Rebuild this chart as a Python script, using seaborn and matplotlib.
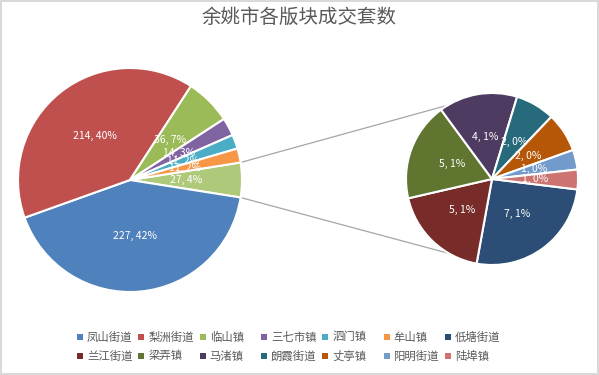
import numpy as np
import matplotlib
matplotlib.use("Agg")
import matplotlib.pyplot as plt
import seaborn as sns

# 主饼图数据
main_names = ["凤山街道", "梨洲街道", "临山镇", "三七市镇", "泗门镇", "牟山镇"]
main_values = [227, 214, 36, 14, 11, 11]
main_pct = [42, 40, 7, 3, 2, 2]
main_colors = ["#4F81BD", "#C0504D", "#9BBB59", "#8064A2", "#4BACC6", "#F79646"]

# 其他 (第二个饼图)
sub_names = ["低塘街道", "兰江街道", "梁弄镇", "马渚镇", "朗霞街道", "丈亭镇", "阳明街道", "陆埠镇"]
sub_values = [7, 5, 5, 4, 2, 2, 1, 1]
sub_pct = [1, 1, 1, 1, 0, 0, 0, 0]
sub_colors = ["#2C4D75", "#772C2A", "#5F7530", "#4D3B62", "#276A7C", "#B65708", "#729ACA", "#CD7371"]

other_pct = 4
other_color = "#AFC97A"

sns.set_theme(style="white")
plt.rcParams["font.family"] = ["Noto Sans CJK SC", "DejaVu Sans"]

W, H = 599, 375
fig = plt.figure(figsize=(W / 100, H / 100), dpi=100, edgecolor="#D9D9D9", linewidth=1.5)
ax = fig.add_axes([0, 0, 1, 1])

# 主饼图: "其他" 放在第一块, 以 0 度为中心
other_value = sum(sub_values)
vals1 = [other_value] + main_values
cols1 = [other_color] + main_colors
labs1 = iter([f"{v}, {p}%" for v, p in zip(vals1, [other_pct] + main_pct)])
half = other_value / sum(vals1) * 360 / 2

c1, r1 = (130, H - 180), 112
c2, r2 = (492, H - 179), 86

ax.pie(vals1, colors=cols1, startangle=half, counterclock=False,
       center=c1, radius=r1, frame=True,
       autopct=lambda p: next(labs1), pctdistance=0.5,
       wedgeprops=dict(edgecolor="white", linewidth=1.5),
       textprops=dict(color="white", fontsize=7.5))

labs2 = iter([f"{v}, {p}%" for v, p in zip(sub_values, sub_pct)])
ax.pie(sub_values, colors=sub_colors, startangle=-7, counterclock=False,
       center=c2, radius=r2, frame=True,
       autopct=lambda p: next(labs2), pctdistance=0.5,
       wedgeprops=dict(edgecolor="white", linewidth=1.5),
       textprops=dict(color="white", fontsize=7.5))

# 连接线
for sgn in (1, -1):
    a = np.deg2rad(sgn * half)
    x0 = c1[0] + r1 * np.cos(a)
    y0 = c1[1] + r1 * np.sin(a)
    ax.plot([x0, c2[0]], [y0, c2[1] + sgn * r2], color="#A6A6A6", lw=0.9, zorder=0)

ax.set_xlim(0, W)
ax.set_ylim(0, H)
ax.axis("off")

fig.text(0.5, 1 - 17 / H, "余姚市各版块成交套数", ha="center", va="center",
         fontsize=14, color="#595959")

# 图例
leg_names = main_names + sub_names
leg_colors = main_colors + sub_colors
for i, (n, c) in enumerate(zip(leg_names, leg_colors)):
    col, row = i % 7, i // 7
    x = 80 + col * 61.3
    y = H - (337 + row * 19)
    ax.scatter([x], [y], marker="s", s=22, color=c, linewidths=0)
    ax.text(x + 7, y, n, ha="left", va="center", fontsize=8.2, color="#595959")

fig.savefig("out.png", dpi=100, edgecolor=fig.get_edgecolor())
